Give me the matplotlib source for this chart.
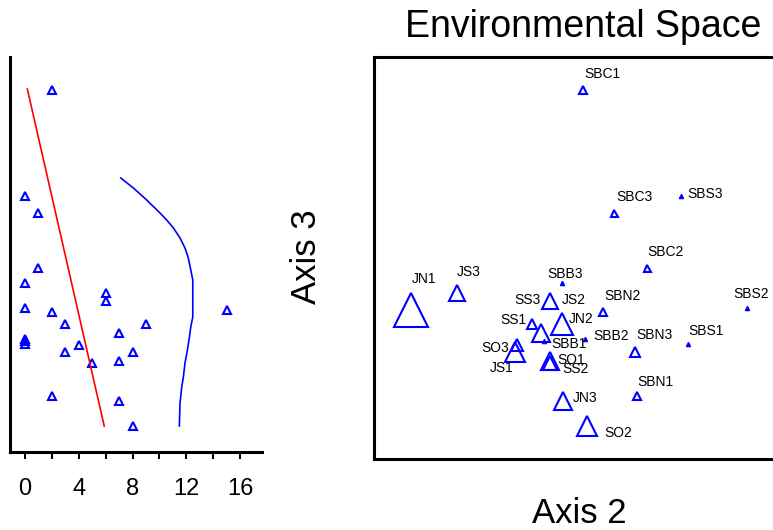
import matplotlib.pyplot as plt

plt.rcParams['font.family'] = ['Liberation Sans', 'DejaVu Sans']

# sites: ordination scores + environmental variable value
sites = ['SBC1', 'SBS3', 'SBC3', 'SBC2', 'SBB3', 'JS3', 'SS3', 'SBS2', 'JN1', 'SBN2',
         'SS1', 'JN2', 'JS2', 'SBB2', 'SBB1', 'SBS1', 'SO3', 'JS1', 'SBN3', 'SO1',
         'SS2', 'SBN1', 'JN3', 'SO2']
axis2 = [0.23, 1.21, 0.54, 0.87, 0.02, -1.03, -0.10, 1.87, -1.49, 0.43,
         -0.28, 0.02, -0.19, 0.25, -0.16, 1.28, -0.43, -0.45, 0.75, -0.10,
         -0.10, 0.77, 0.03, 0.27]
axis3 = [2.40, 1.34, 1.17, 0.62, 0.475, 0.375, 0.29, 0.22, 0.20, 0.18,
         0.063, 0.06, -0.03, -0.093, -0.11, -0.14, -0.15, -0.22, -0.22, -0.305,
         -0.33, -0.663, -0.71, -0.962]
env_value = [2, 0, 1, 1, 0, 6, 6, 0, 15, 2,
             3, 9, 7, 0, 0, 0, 4, 8, 3, 7,
             5, 2, 7, 8]

# straight fit line (red) and smooth curve (blue) on the left panel
fit_x = [0.17, 5.89]
fit_y = [2.41, -0.96]
smooth_x = [7.12, 8.06, 9.05, 10.04, 10.54, 11.04, 11.53, 11.90, 12.15, 12.33,
            12.48, 12.48, 12.33, 12.23, 12.08, 11.90, 11.78, 11.66, 11.53, 11.48]
smooth_y = [1.52, 1.42, 1.30, 1.17, 1.10, 1.02, 0.92, 0.82, 0.72, 0.60,
            0.50, 0.13, 0.03, -0.07, -0.20, -0.33, -0.47, -0.57, -0.73, -0.96]

x_ticks = [0, 2, 4, 6, 8, 10, 12, 14, 16]
x_tick_labels = ['0', '', '4', '', '8', '', '12', '', '16']

# label offsets in pixels (dx, dy downward, alignment)
label_pos = {
    'SBC1': (19, -16, 'center'), 'SBS3': (6, -2, 'left'), 'SBC3': (20, -16, 'center'),
    'SBC2': (19, -16, 'center'), 'SBB3': (3, -9, 'center'), 'JS3': (12, -20, 'center'),
    'SS3': (-9, -1, 'right'), 'SBS2': (4, -14, 'center'), 'JN1': (13, -31, 'center'),
    'SBN2': (20, -16, 'center'), 'SS1': (-6, -4, 'right'), 'JN2': (7, -5, 'left'),
    'JS2': (21, -33, 'left'), 'SBB2': (8, -3, 'left'), 'SBB1': (7, 3, 'left'),
    'SBS1': (18, -13, 'center'), 'SO3': (-8, 3, 'right'), 'JS1': (-13, 16, 'center'),
    'SBN3': (19, -17, 'center'), 'SO1': (7, 0, 'left'), 'SS2': (12, 6, 'left'),
    'SBN1': (18, -14, 'center'), 'JN3': (10, -3, 'left'), 'SO2': (17, 7, 'left'),
}

W, H = 773, 530
fig = plt.figure(figsize=(W / 100, H / 100), dpi=100)
px = 72 / 100  # pixels -> points

# ---- left panel
axl = fig.add_axes([10 / W, 1 - 451.7 / H, 252 / W, 395 / H])
axl.plot(env_value, axis3, ls='none', marker='^', ms=5.5, mfc='none', mec='blue', mew=1.5)
axl.plot(fit_x, fit_y, color='red', lw=1.2)
axl.plot(smooth_x, smooth_y, color='blue', lw=1.2)
axl.set_xlim(-1.12, 17.63)
axl.set_ylim(-1.217, 2.733)
axl.set_xticks(x_ticks)
axl.set_xticklabels(x_tick_labels, fontsize=17)
axl.set_yticks([])
axl.tick_params(axis='x', length=5, width=1.5, pad=14)
for s in ['top', 'right']:
    axl.spines[s].set_visible(False)
for s in ['left', 'bottom']:
    axl.spines[s].set_linewidth(2.2)

# ---- right panel (runs past the right edge of the figure)
axr = fig.add_axes([374.3 / W, 1 - 459 / H, 413.7 / W, 401.7 / H])
axr.set_xlim(-1.857, 2.28)
axr.set_ylim(-1.29, 2.727)
axr.set_xticks([])
axr.set_yticks([])
for s in axr.spines.values():
    s.set_linewidth(2.2)

for name, x, y, v in zip(sites, axis2, axis3, env_value):
    if v == 0:
        axr.plot(x, y, marker='^', ms=3, color='blue', ls='none')
    else:
        w = max(7, 4 + 1.95 * v)
        axr.plot(x, y, marker='^', ms=w * px, mfc='none', mec='blue', mew=1.5, ls='none')
    dx, dy, ha = label_pos[name]
    axr.annotate(name, (x, y), xytext=(dx * px, -dy * px), textcoords='offset points',
                 ha=ha, va='center', fontsize=10)

fig.text(583 / W, 1 - 36.7 / H, 'Environmental Space', ha='center', va='baseline', fontsize=27)
fig.text(579.3 / W, 1 - 523 / H, 'Axis 2', ha='center', va='baseline', fontsize=25)
fig.text(307 / W, 1 - 256.7 / H, 'Axis 3', ha='center', va='center', rotation=90, fontsize=25)

fig.savefig('out.png', dpi=100)
